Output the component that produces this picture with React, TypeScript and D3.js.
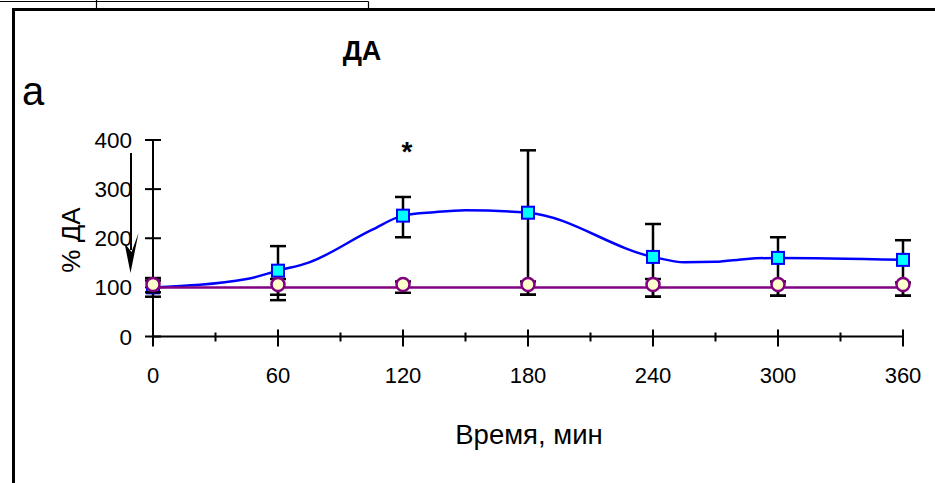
import React, { useEffect, useRef } from 'react';
import * as d3 from 'd3';

const times = [0, 60, 120, 180, 240, 300, 360];
const daValues = [100, 134, 246, 252, 162, 160, 156];
const daErrLow = [81, 74, 202, 85, 81, 83, 83];
const daErrHigh = [119, 184, 284, 379, 229, 202, 196];
const controlValues = [106, 106, 106, 106, 106, 106, 106];
const controlErrLow = [90, 85, 89, 85, 81, 83, 83];
const controlErrHigh = [114, 117, 112, 112, 117, 112, 110];
const controlLine = [100, 100, 100, 100, 100, 100, 100];
// smoothed DA line passes through these readings
const curveTimes = [0, 45, 60, 75, 105, 120, 135, 150, 180, 240, 255, 270, 285, 300, 360];
const curveValues = [100, 117, 134, 151, 217, 246, 253, 257, 252, 162, 151, 152, 158, 160, 156];
const yTicks = [0, 100, 200, 300, 400];
const xTicks = [0, 60, 120, 180, 240, 300, 360];
const xMinorTicks = [30, 90, 150, 210, 270, 330];

const App = () => {
  const svgRef = useRef<SVGSVGElement>(null);

  useEffect(() => {
    const svg = d3.select(svgRef.current);
    svg.selectAll('*').remove();
    const font = 'Arial, "Liberation Sans", sans-serif';

    const x = d3.scaleLinear().domain([0, 360]).range([153, 903]);
    const y = d3.scaleLinear().domain([0, 400]).range([336.5, 140]);

    // frame
    svg.append('path')
      .attr('d', 'M0,1.5H368.5M96.5,0V8M368.5,1.5V8')
      .attr('fill', 'none').attr('stroke', '#000').attr('stroke-width', 1.2);
    svg.append('path')
      .attr('d', 'M13.5,483V9.5H935')
      .attr('fill', 'none').attr('stroke', '#000').attr('stroke-width', 3);

    svg.append('text')
      .attr('x', 362).attr('y', 60)
      .attr('text-anchor', 'middle')
      .attr('font-family', font).attr('font-weight', 'bold').attr('font-size', 27)
      .text('ДА');
    svg.append('text')
      .attr('x', 22).attr('y', 105)
      .attr('font-family', font).attr('font-size', 40)
      .text('а');

    // axes
    svg.append('line')
      .attr('x1', x(0)).attr('x2', x(0)).attr('y1', y(400)).attr('y2', y(0))
      .attr('stroke', '#000').attr('stroke-width', 2);
    svg.append('line')
      .attr('x1', x(0)).attr('x2', x(360)).attr('y1', y(0)).attr('y2', y(0))
      .attr('stroke', '#000').attr('stroke-width', 2);

    svg.selectAll('.ytick').data(yTicks).enter().append('line')
      .attr('x1', x(0) - 8).attr('x2', x(0) + 8)
      .attr('y1', d => y(d)).attr('y2', d => y(d))
      .attr('stroke', '#000').attr('stroke-width', 2);
    svg.selectAll('.ylab').data(yTicks).enter().append('text')
      .attr('x', 132).attr('y', d => y(d) + 8)
      .attr('text-anchor', 'end')
      .attr('font-family', font).attr('font-size', 22.5)
      .text(d => d);

    svg.selectAll('.xtick').data(xTicks).enter().append('line')
      .attr('x1', d => x(d)).attr('x2', d => x(d))
      .attr('y1', y(0) - 7).attr('y2', y(0) + 10)
      .attr('stroke', '#000').attr('stroke-width', 2);
    svg.selectAll('.xminor').data(xMinorTicks).enter().append('line')
      .attr('x1', d => x(d)).attr('x2', d => x(d))
      .attr('y1', y(0) - 4).attr('y2', y(0) + 5)
      .attr('stroke', '#000').attr('stroke-width', 2);
    svg.selectAll('.xlab').data(xTicks).enter().append('text')
      .attr('x', d => x(d)).attr('y', 383)
      .attr('text-anchor', 'middle')
      .attr('font-family', font).attr('font-size', 22)
      .text(d => d);

    svg.append('text')
      .attr('x', 529).attr('y', 444)
      .attr('text-anchor', 'middle')
      .attr('font-family', font).attr('font-size', 27.5)
      .text('Время, мин');
    svg.append('text')
      .attr('transform', 'translate(80,240) rotate(-90)')
      .attr('text-anchor', 'middle')
      .attr('font-family', font).attr('font-size', 26)
      .text('% ДА');

    const errorBars = (lo: number[], hi: number[]) => {
      const g = svg.append('g').attr('stroke', '#000').attr('stroke-width', 2.5);
      times.forEach((t, i) => {
        g.append('line').attr('x1', x(t)).attr('x2', x(t)).attr('y1', y(lo[i])).attr('y2', y(hi[i]));
        [lo[i], hi[i]].forEach(v => {
          g.append('line').attr('x1', x(t) - 8).attr('x2', x(t) + 8).attr('y1', y(v)).attr('y2', y(v));
        });
      });
    };

    // DA series
    errorBars(daErrLow, daErrHigh);
    const curve = d3.line<number>()
      .x((d, i) => x(curveTimes[i]))
      .y(d => y(d))
      .curve(d3.curveMonotoneX);
    svg.append('path')
      .datum(curveValues)
      .attr('fill', 'none').attr('stroke', '#0000ff').attr('stroke-width', 2.5)
      .attr('d', curve);
    svg.selectAll('.sq').data(daValues).enter().append('rect')
      .attr('x', (d, i) => x(times[i]) - 6).attr('y', d => y(d) - 6)
      .attr('width', 12).attr('height', 12)
      .attr('fill', '#00ffff').attr('stroke', '#0000ff').attr('stroke-width', 2);

    // control series
    errorBars(controlErrLow, controlErrHigh);
    const straight = d3.line<number>()
      .x((d, i) => x(times[i]))
      .y(d => y(d));
    svg.append('path')
      .datum(controlLine)
      .attr('fill', 'none').attr('stroke', '#800080').attr('stroke-width', 2.5)
      .attr('d', straight);
    svg.selectAll('.ci').data(controlValues).enter().append('circle')
      .attr('cx', (d, i) => x(times[i])).attr('cy', d => y(d))
      .attr('r', 6.5)
      .attr('fill', '#ffffcc').attr('stroke', '#800080').attr('stroke-width', 2.5);

    // significance mark
    svg.append('text')
      .attr('x', x(120) + 4).attr('y', 161)
      .attr('text-anchor', 'middle')
      .attr('font-family', font).attr('font-weight', 'bold').attr('font-size', 28)
      .text('*');

    // injection arrow
    svg.append('line')
      .attr('x1', 131).attr('x2', 131).attr('y1', 153).attr('y2', 250)
      .attr('stroke', '#000').attr('stroke-width', 2);
    svg.append('path')
      .attr('d', 'M130.5,273L124.5,243L131.5,252L138.5,233Z')
      .attr('fill', '#000');
  }, []);

  return (
    <svg ref={svgRef} width={935} height={483}
      style={{ position: 'absolute', left: 0, top: 0, background: '#fff' }} />
  );
};

export default App;
